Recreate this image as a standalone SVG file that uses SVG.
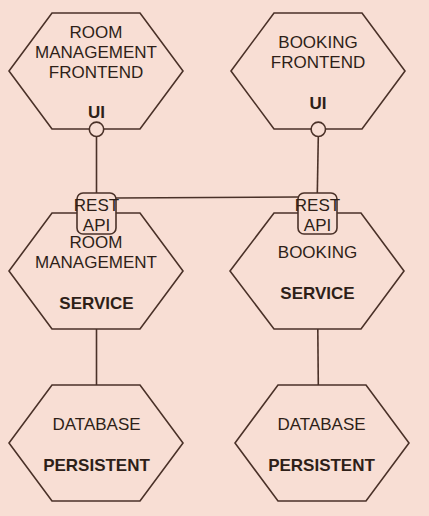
<svg xmlns="http://www.w3.org/2000/svg" width="429" height="516" viewBox="0 0 429 516">
<style>
.hex{fill:#f8ded4;stroke:#4a3128;stroke-width:1.6}
.box{fill:#f8ded4;stroke:#4a3128;stroke-width:1.6}
.ln{fill:none;stroke:#4a3128;stroke-width:1.6}
text{font-family:"Liberation Sans",Arial,sans-serif;font-size:17px;fill:#2e1f18;text-anchor:middle}
.b{font-weight:bold}
</style>
<rect width="429" height="516" fill="#f8ded4"/>
<g id="connectors">
<line class="ln" x1="96.5" y1="136.5" x2="96.5" y2="193"/>
<line class="ln" x1="318.3" y1="136.5" x2="317.3" y2="193"/>
<line class="ln" x1="116" y1="198" x2="298" y2="197"/>
<line class="ln" x1="96.5" y1="329" x2="96.5" y2="385"/>
<line class="ln" x1="317.8" y1="329" x2="318.3" y2="385"/>
</g>
<g id="room-frontend">
<polygon class="hex" points="52,13 140,13 183,71 140,129 52,129 9,71"/>
<text x="96" y="38">ROOM</text>
<text x="96" y="58">MANAGEMENT</text>
<text x="96" y="78">FRONTEND</text>
<text class="b" x="96.5" y="118">UI</text>
<circle class="box" cx="96.5" cy="129.3" r="7.2"/>
</g>
<g id="booking-frontend">
<polygon class="hex" points="274,13 362,13 405,71 362,129 274,129 231,71"/>
<text x="318" y="48">BOOKING</text>
<text x="318" y="68">FRONTEND</text>
<text class="b" x="318" y="109">UI</text>
<circle class="box" cx="318.3" cy="129.3" r="7.2"/>
</g>
<g id="room-service">
<polygon class="hex" points="52,213 140,213 183,271 140,329 52,329 9,271"/>
<text x="96" y="248">ROOM</text>
<text x="96" y="268">MANAGEMENT</text>
<text class="b" x="96.5" y="309">SERVICE</text>
</g>
<g id="room-rest">
<rect class="box" x="77" y="193" width="39" height="41" rx="6"/>
<text x="96.5" y="211">REST</text>
<text x="96.5" y="231">API</text>
</g>
<g id="booking-service">
<polygon class="hex" points="274,213 361,213 404,271 361,329 274,329 230,271"/>
<text x="317.5" y="258">BOOKING</text>
<text class="b" x="317.5" y="298.5">SERVICE</text>
</g>
<g id="booking-rest">
<rect class="box" x="298" y="193" width="39" height="41" rx="6"/>
<text x="317.5" y="211">REST</text>
<text x="317.5" y="231">API</text>
</g>
<g id="room-db">
<polygon class="hex" points="52,385 140,385 183,443 140,501 52,501 9,443"/>
<text x="96.5" y="430">DATABASE</text>
<text class="b" x="96.5" y="471">PERSISTENT</text>
</g>
<g id="booking-db">
<polygon class="hex" points="278,385 366,385 409,443 366,501 278,501 235,443"/>
<text x="321.5" y="430">DATABASE</text>
<text class="b" x="321.5" y="471">PERSISTENT</text>
</g>
</svg>
